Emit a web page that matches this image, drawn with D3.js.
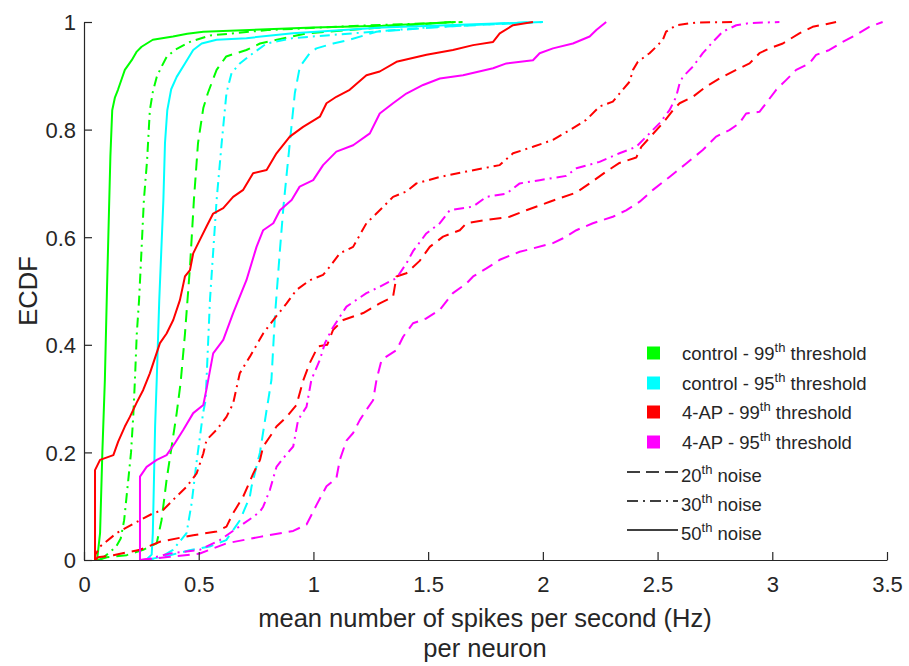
<!DOCTYPE html>
<html>
<head>
<meta charset="utf-8">
<script src="https://cdn.jsdelivr.net/npm/d3@7"></script>
<style>
  html, body { margin: 0; padding: 0; background: #fff; }
  svg text { font-family: "Liberation Sans", Arial, Helvetica, sans-serif; fill: #262626; }
</style>
</head>
<body>
<svg id="chart" width="909" height="666"></svg>
<script>
// ---------------- DATA (x = mean spikes/s per neuron, y = ECDF) ----------------
const xTicks = [0, 0.5, 1, 1.5, 2, 2.5, 3, 3.5];
const yTicks = [0, 0.2, 0.4, 0.6, 0.8, 1];

// control - 99th threshold
const ctrl99_noise20 = [[0.06,0],[0.1,0.005],[0.186,0.009],[0.258,0.019],[0.317,0.031],[0.338,0.074],[0.36,0.149],[0.382,0.211],[0.404,0.273],[0.421,0.329],[0.44,0.42],[0.462,0.545],[0.479,0.669],[0.497,0.775],[0.52,0.84],[0.54,0.868],[0.578,0.911],[0.62,0.936],[0.708,0.948],[0.767,0.96],[0.97,0.979],[1.3,0.99],[1.6,1]];
const ctrl99_noise30 = [[0.07,0],[0.1,0.01],[0.14,0.025],[0.16,0.04],[0.175,0.074],[0.193,0.149],[0.205,0.2],[0.215,0.27],[0.222,0.335],[0.23,0.42],[0.24,0.483],[0.25,0.57],[0.261,0.669],[0.275,0.743],[0.287,0.836],[0.3,0.87],[0.317,0.898],[0.338,0.917],[0.36,0.935],[0.396,0.948],[0.462,0.963],[0.55,0.975],[0.8,0.985],[1.2,0.993],[1.65,1]];
const ctrl99_noise50 = [[0.057,0],[0.07,0.05],[0.08,0.2],[0.091,0.335],[0.1,0.5],[0.109,0.65],[0.115,0.75],[0.123,0.836],[0.135,0.86],[0.148,0.874],[0.165,0.895],[0.178,0.911],[0.208,0.929],[0.23,0.945],[0.251,0.954],[0.3,0.967],[0.388,0.973],[0.45,0.978],[0.52,0.982],[0.77,0.986],[1.0,0.99],[1.3,0.993],[1.62,1]];
// control - 95th threshold
const ctrl95_noise20 = [[0.27,0],[0.375,0.009],[0.46,0.018],[0.548,0.025],[0.62,0.037],[0.68,0.074],[0.723,0.118],[0.73,0.136],[0.767,0.2],[0.796,0.279],[0.803,0.297],[0.817,0.335],[0.832,0.452],[0.854,0.576],[0.87,0.66],[0.897,0.775],[0.919,0.868],[0.941,0.917],[0.984,0.942],[1.013,0.951],[1.086,0.96],[1.158,0.967],[1.275,0.982],[1.6,0.992],[2.0,1]];
const ctrl95_noise30 = [[0.26,0],[0.33,0.004],[0.388,0.019],[0.447,0.05],[0.469,0.105],[0.49,0.18],[0.519,0.273],[0.53,0.297],[0.534,0.335],[0.549,0.483],[0.578,0.669],[0.6,0.775],[0.621,0.868],[0.643,0.905],[0.679,0.923],[0.737,0.942],[0.796,0.96],[0.91,0.97],[1.085,0.976],[1.5,0.99],[1.95,1]];
const ctrl95_noise50 = [[0.27,0],[0.295,0.01],[0.3,0.05],[0.305,0.15],[0.31,0.25],[0.317,0.335],[0.328,0.483],[0.346,0.669],[0.353,0.775],[0.363,0.836],[0.38,0.875],[0.404,0.898],[0.44,0.923],[0.476,0.948],[0.513,0.96],[0.578,0.967],[0.708,0.97],[0.91,0.979],[1.3,0.99],[2.0,1]];
// 4-AP - 99th threshold
const ap99_noise20 = [[0.05,0],[0.06,0.005],[0.128,0.009],[0.244,0.019],[0.331,0.034],[0.476,0.046],[0.578,0.053],[0.621,0.062],[0.65,0.087],[0.694,0.118],[0.737,0.16],[0.767,0.186],[0.781,0.211],[0.81,0.229],[0.839,0.248],[0.883,0.266],[0.926,0.288],[0.955,0.333],[0.984,0.366],[1.02,0.397],[1.06,0.4],[1.086,0.428],[1.13,0.446],[1.217,0.459],[1.289,0.477],[1.347,0.489],[1.362,0.527],[1.405,0.533],[1.463,0.556],[1.507,0.582],[1.565,0.601],[1.638,0.613],[1.667,0.626],[1.754,0.632],[1.855,0.638],[1.928,0.65],[2.03,0.666],[2.146,0.683],[2.204,0.7],[2.276,0.722],[2.334,0.738],[2.407,0.748],[2.429,0.768],[2.465,0.785],[2.523,0.812],[2.567,0.836],[2.596,0.849],[2.654,0.861],[2.712,0.88],[2.77,0.895],[2.843,0.911],[2.901,0.923],[2.944,0.942],[2.988,0.951],[3.046,0.96],[3.118,0.979],[3.176,0.991],[3.234,0.996],[3.278,1]];
const ap99_noise30 = [[0.048,0],[0.05,0.01],[0.07,0.025],[0.142,0.05],[0.244,0.074],[0.302,0.087],[0.345,0.093],[0.389,0.112],[0.447,0.136],[0.491,0.161],[0.52,0.198],[0.534,0.223],[0.578,0.242],[0.621,0.266],[0.65,0.291],[0.665,0.32],[0.679,0.347],[0.723,0.378],[0.781,0.421],[0.825,0.446],[0.883,0.477],[0.926,0.502],[0.984,0.52],[1.042,0.53],[1.071,0.545],[1.115,0.57],[1.173,0.582],[1.231,0.626],[1.289,0.65],[1.347,0.675],[1.405,0.685],[1.449,0.7],[1.551,0.712],[1.667,0.722],[1.812,0.734],[1.87,0.756],[1.957,0.768],[2.044,0.781],[2.117,0.799],[2.189,0.818],[2.247,0.843],[2.305,0.852],[2.334,0.867],[2.378,0.889],[2.393,0.911],[2.414,0.926],[2.465,0.942],[2.494,0.954],[2.523,0.967],[2.537,0.982],[2.581,0.994],[2.668,0.999],[2.843,1]];
const ap99_noise50 = [[0.048,0],[0.048,0.167],[0.07,0.186],[0.128,0.195],[0.149,0.22],[0.178,0.248],[0.2,0.266],[0.229,0.292],[0.258,0.316],[0.287,0.347],[0.331,0.403],[0.36,0.421],[0.389,0.446],[0.418,0.483],[0.44,0.527],[0.462,0.539],[0.476,0.57],[0.505,0.595],[0.534,0.62],[0.563,0.644],[0.607,0.654],[0.65,0.675],[0.694,0.688],[0.737,0.719],[0.796,0.725],[0.839,0.756],[0.897,0.787],[0.955,0.805],[1.028,0.824],[1.057,0.849],[1.1,0.861],[1.158,0.874],[1.231,0.901],[1.289,0.908],[1.362,0.926],[1.493,0.939],[1.608,0.948],[1.696,0.957],[1.783,0.963],[1.812,0.979],[1.87,0.994],[1.957,1]];
// 4-AP - 95th threshold
const ap95_noise20 = [[0.244,0],[0.375,0.006],[0.505,0.012],[0.621,0.031],[0.767,0.043],[0.912,0.054],[0.97,0.066],[1.013,0.102],[1.057,0.137],[1.1,0.152],[1.115,0.186],[1.144,0.222],[1.173,0.236],[1.202,0.26],[1.231,0.279],[1.26,0.297],[1.275,0.335],[1.297,0.372],[1.318,0.378],[1.362,0.39],[1.391,0.415],[1.434,0.44],[1.492,0.449],[1.551,0.465],[1.608,0.496],[1.667,0.514],[1.696,0.527],[1.754,0.542],[1.812,0.558],[1.899,0.573],[1.928,0.576],[2.044,0.589],[2.088,0.598],[2.146,0.613],[2.218,0.626],[2.305,0.638],[2.363,0.65],[2.422,0.666],[2.48,0.688],[2.552,0.712],[2.625,0.737],[2.697,0.762],[2.755,0.787],[2.813,0.799],[2.857,0.812],[2.886,0.83],[2.944,0.833],[2.973,0.849],[3.017,0.874],[3.06,0.892],[3.104,0.911],[3.162,0.923],[3.191,0.939],[3.249,0.948],[3.307,0.963],[3.365,0.976],[3.423,0.991],[3.481,1]];
const ap95_noise30 = [[0.25,0],[0.29,0.003],[0.375,0.012],[0.505,0.019],[0.592,0.037],[0.69,0.066],[0.737,0.08],[0.767,0.09],[0.781,0.099],[0.81,0.13],[0.839,0.173],[0.87,0.19],[0.912,0.211],[0.933,0.26],[0.97,0.285],[0.991,0.335],[1.028,0.372],[1.05,0.403],[1.079,0.428],[1.115,0.452],[1.144,0.471],[1.231,0.496],[1.289,0.508],[1.362,0.524],[1.405,0.551],[1.434,0.574],[1.492,0.607],[1.551,0.626],[1.594,0.65],[1.696,0.657],[1.754,0.675],[1.841,0.681],[1.899,0.7],[1.986,0.706],[2.102,0.714],[2.146,0.728],[2.247,0.74],[2.334,0.756],[2.407,0.768],[2.451,0.787],[2.509,0.812],[2.552,0.836],[2.581,0.861],[2.596,0.886],[2.61,0.898],[2.654,0.917],[2.697,0.942],[2.741,0.963],[2.784,0.982],[2.843,0.994],[2.901,0.998],[3.031,1]];
const ap95_noise50 = [[0.244,0],[0.244,0.155],[0.273,0.173],[0.317,0.186],[0.36,0.195],[0.396,0.217],[0.433,0.242],[0.476,0.273],[0.52,0.288],[0.535,0.32],[0.563,0.384],[0.607,0.409],[0.65,0.459],[0.708,0.52],[0.752,0.582],[0.781,0.613],[0.825,0.626],[0.854,0.65],[0.905,0.669],[0.94,0.694],[0.999,0.706],[1.042,0.734],[1.1,0.759],[1.173,0.771],[1.246,0.793],[1.289,0.83],[1.347,0.849],[1.405,0.867],[1.478,0.883],[1.551,0.895],[1.652,0.901],[1.783,0.914],[1.841,0.923],[1.957,0.929],[1.986,0.942],[2.044,0.951],[2.131,0.96],[2.204,0.973],[2.233,0.985],[2.276,1]];

const groupLabels = [["control - 99", " threshold"], ["control - 95", " threshold"], ["4-AP - 99", " threshold"], ["4-AP - 95", " threshold"]];
const noiseLabels = ["20", "30", "50"];

// ---------------- STYLE / LAYOUT ----------------
const groupColors = ["#00ff00", "#00ffff", "#ff0000", "#ff00ff"];
const noiseDash = ["12,7", "10,5,2,5", null];
const series = [
  {data: ctrl99_noise20, g: 0, n: 0}, {data: ctrl99_noise30, g: 0, n: 1}, {data: ctrl99_noise50, g: 0, n: 2},
  {data: ctrl95_noise20, g: 1, n: 0}, {data: ctrl95_noise30, g: 1, n: 1}, {data: ctrl95_noise50, g: 1, n: 2},
  {data: ap99_noise20, g: 2, n: 0}, {data: ap99_noise30, g: 2, n: 1}, {data: ap99_noise50, g: 2, n: 2},
  {data: ap95_noise20, g: 3, n: 0}, {data: ap95_noise30, g: 3, n: 1}, {data: ap95_noise50, g: 3, n: 2}
];

const svg = d3.select("#chart");
const x = d3.scaleLinear().domain([0, 3.5]).range([84, 887]);
const y = d3.scaleLinear().domain([0, 1]).range([560, 22]);
const axisColor = "#262626";

// lines
const line = d3.line().x(d => x(d[0])).y(d => y(d[1]));
const gLines = svg.append("g");
series.forEach(s => {
  gLines.append("path")
    .attr("d", line(s.data))
    .attr("fill", "none")
    .attr("stroke", groupColors[s.g])
    .attr("stroke-width", 2)
    .attr("stroke-linejoin", "round")
    .attr("stroke-dasharray", noiseDash[s.n]);
});

// axes (ticks inward)
const fmt = d => String(d);
const xAxis = svg.append("g").attr("transform", "translate(0,560)")
  .call(d3.axisBottom(x).tickValues(xTicks).tickFormat(fmt).tickSizeInner(-8).tickSizeOuter(0).tickPadding(16));
const yAxis = svg.append("g").attr("transform", "translate(84,0)")
  .call(d3.axisLeft(y).tickValues(yTicks).tickFormat(fmt).tickSizeInner(-8).tickSizeOuter(0).tickPadding(8));
[xAxis, yAxis].forEach(a => {
  a.select(".domain").attr("stroke", axisColor).attr("stroke-width", 1.2);
  a.selectAll(".tick line").attr("stroke", axisColor).attr("stroke-width", 1.2);
  a.selectAll(".tick text").attr("fill", axisColor).style("font-size", "22px")
    .style("font-family", '"Liberation Sans", Arial, sans-serif');
});
xAxis.selectAll(".tick text").attr("dy", "0.71em");
yAxis.selectAll(".tick text").attr("dy", "0.36em");

// axis labels
svg.append("text").attr("x", 485).attr("y", 627).attr("text-anchor", "middle")
  .style("font-size", "25.5px").text("mean number of spikes per second (Hz)");
svg.append("text").attr("x", 485).attr("y", 657).attr("text-anchor", "middle")
  .style("font-size", "25.5px").text("per neuron");
svg.append("text").attr("transform", "translate(37,291) rotate(-90)").attr("text-anchor", "middle")
  .style("font-size", "25.5px").text("ECDF");

// legend
const lg = svg.append("g");
const rowY = [353, 383, 412, 442];
groupLabels.forEach((lab, i) => {
  lg.append("rect").attr("x", 647).attr("y", rowY[i] - 6.5).attr("width", 13).attr("height", 13)
    .attr("fill", groupColors[i]);
  const t = lg.append("text").attr("x", 682).attr("y", rowY[i] + 7).style("font-size", "18.5px");
  t.append("tspan").text(lab[0]);
  t.append("tspan").attr("dy", -8).style("font-size", "13px").text("th");
  t.append("tspan").attr("dy", 8).text(lab[1]);
});
const noiseY = [472, 501, 530];
noiseLabels.forEach((lab, i) => {
  lg.append("line").attr("x1", 627).attr("x2", 678).attr("y1", noiseY[i]).attr("y2", noiseY[i])
    .attr("stroke", "#000").attr("stroke-width", 1.6)
    .attr("stroke-dasharray", i === 0 ? "13,6" : (i === 1 ? "11,5,2,5" : null));
  const t = lg.append("text").attr("x", 681).attr("y", noiseY[i] + 10).style("font-size", "18.5px");
  t.append("tspan").text(lab);
  t.append("tspan").attr("dy", -8).style("font-size", "13px").text("th");
  t.append("tspan").attr("dy", 8).text(" noise");
});
</script>
</body>
</html>
